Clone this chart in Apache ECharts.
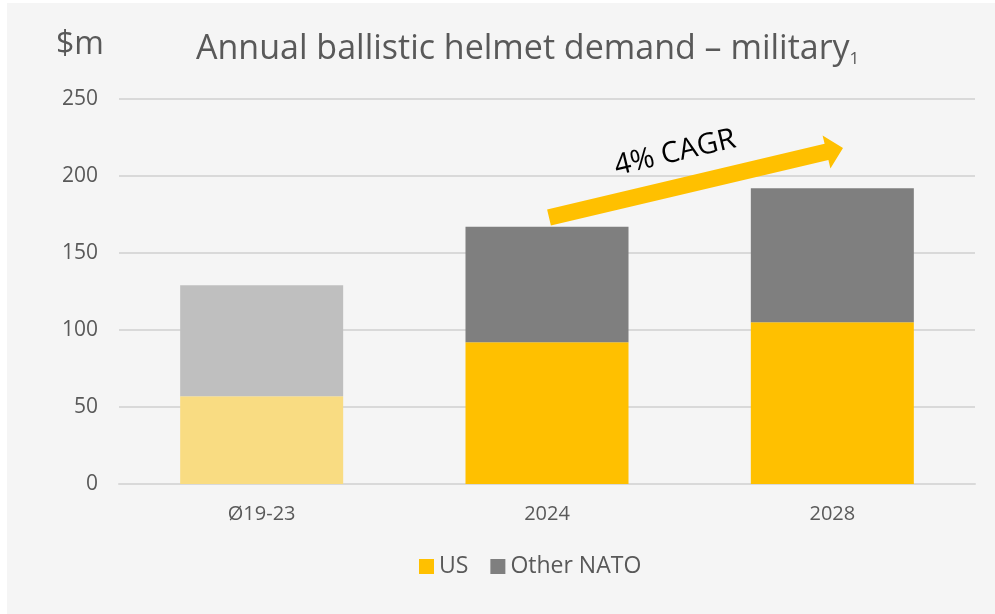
<!DOCTYPE html>
<html>
<head>
<meta charset="utf-8">
<script src="https://cdn.jsdelivr.net/npm/echarts@6/dist/echarts.min.js"></script>
<style>
  html, body { margin: 0; padding: 0; background: #fff; }
  #chart { width: 995px; height: 614px; }
</style>
</head>
<body>
<div id="chart"></div>
<script>
// data
var categories = ['Ø19-23', '2024', '2028'];
var usValues = [57, 92, 105];
var otherValues = [72, 75, 87];
var yTicks = [0, 50, 100, 150, 200, 250];

var font = 'Open Sans';
var textGray = '#595959';

// first column is the historic average, drawn faded
function buildData(values, color, fadedColor) {
    return values.map(function (v, i) {
        return {
            value: v,
            itemStyle: { color: i === 0 ? fadedColor : color }
        };
    });
}

// arrow from 2024 to 2028, pixel polygon
var arrowPoints = [
    [550.9, 225.6], [547.1, 209.4], [824.6, 143.8], [822.6, 135.4],
    [843, 148], [830.4, 168.5], [828.4, 160.0]
];

var chart = echarts.init(document.getElementById('chart'));
var option = {
    backgroundColor: '#ffffff',
    animation: false,
    textStyle: { fontFamily: font },
    title: {
        text: 'Annual ballistic helmet demand – military{sub|1}',
        left: 191,
        top: 26,
        textStyle: {
            fontFamily: font,
            fontSize: 34,
            fontWeight: 'normal',
            color: textGray,
            rich: {
                sub: { fontSize: 17, color: textGray, fontFamily: font, padding: [20, 0, 0, 0] }
            }
        }
    },
    legend: {
        bottom: 31,
        left: 414,
        itemWidth: 15,
        itemHeight: 15,
        itemGap: 22,
        icon: 'rect',
        textStyle: { fontSize: 23, color: textGray, fontFamily: font },
        data: [
            { name: 'US', itemStyle: { color: '#FFC000' } },
            { name: 'Other NATO', itemStyle: { color: '#7F7F7F' } }
        ]
    },
    grid: { left: 119, right: 20, top: 99, bottom: 130, containLabel: false },
    xAxis: {
        type: 'category',
        data: categories,
        axisLine: { lineStyle: { color: '#d9d9d9', width: 2 } },
        axisTick: { show: false },
        axisLabel: { fontSize: 20, color: textGray, margin: 20, fontFamily: font }
    },
    yAxis: {
        type: 'value',
        min: yTicks[0],
        max: yTicks[yTicks.length - 1],
        interval: 50,
        axisLine: { show: false },
        axisTick: { show: false },
        axisLabel: { fontSize: 21, color: textGray, margin: 21, fontFamily: font },
        splitLine: { lineStyle: { color: '#d9d9d9', width: 2 } }
    },
    series: [{
        name: 'US',
        type: 'bar',
        stack: 'total',
        barWidth: 163,
        itemStyle: { color: '#FFC000' },
        data: buildData(usValues, '#FFC000', '#F9DC82')
    }, {
        name: 'Other NATO',
        type: 'bar',
        stack: 'total',
        barWidth: 163,
        itemStyle: { color: '#7F7F7F' },
        data: buildData(otherValues, '#7F7F7F', '#BFBFBF')
    }],
    graphic: [{
        type: 'rect',
        shape: { x: 7, y: 3, width: 995, height: 614 },
        style: { fill: '#f5f5f5' },
        z: -10,
        silent: true
    }, {
        type: 'text',
        left: 56,
        top: 29,
        style: { text: '$m', fontSize: 32, fill: textGray, fontFamily: font }
    }, {
        type: 'polygon',
        shape: { points: arrowPoints },
        style: { fill: '#FFC000' },
        z: 10
    }, {
        type: 'text',
        x: 675,
        y: 153,
        rotation: 13.3 * Math.PI / 180,
        style: {
            text: '4% CAGR',
            fontSize: 29,
            fill: '#000000',
            fontFamily: font,
            align: 'center',
            verticalAlign: 'middle'
        },
        z: 10
    }]
};
chart.setOption(option);
</script>
</body>
</html>
